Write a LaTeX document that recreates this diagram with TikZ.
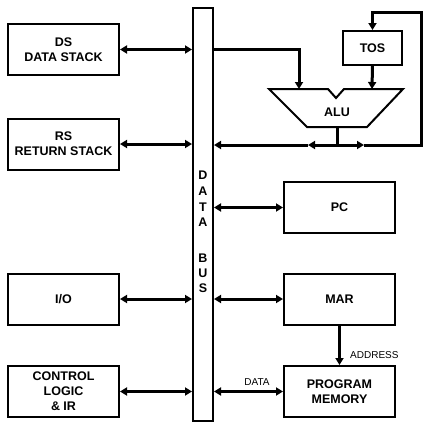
\documentclass[tikz,border=0pt]{standalone}
\usepackage{fontspec}
\setmainfont{Liberation Sans}
\usepackage{tikz}
\usetikzlibrary{arrows.meta, positioning, calc}

\tikzset{
  block/.style={draw, line width=2pt, minimum width=111pt, minimum height=51pt,
    inner sep=0pt, align=center, font=\fontsize{12.5}{15}\selectfont\bfseries},
  link/.style={line width=3pt, -{Triangle[length=7pt,width=8pt]}},
  duplex/.style={line width=3pt, {Triangle[length=7pt,width=8pt]}-{Triangle[length=7pt,width=8pt]}},
  wire/.style={line width=3pt},
  tag/.style={font=\fontsize{10}{12}\selectfont, inner sep=1pt}
}

\begin{document}
\begin{tikzpicture}[x=1pt, y=-1pt]
  \useasboundingbox (0,0) rectangle (431,440);

  % Left side blocks
  \node[block] (ds) at (63.5,49.5) {DS\\DATA STACK};
  \node[block] (rs) at (63.5,144) {RS\\RETURN STACK};
  \node[block] (io) at (63.5,299) {I/O};
  \node[block] (ctrl) at (63.5,391.5) {CONTROL\\LOGIC\\\& IR};

  % The data bus
  \node[draw, line width=2pt, minimum width=20pt, minimum height=413pt, inner sep=0pt] (bus) at (203,214.5) {};
  \foreach \ch/\y in {D/175, A/191, T/207, A/222, B/258, U/273, S/288}
    \node[font=\fontsize{12.5}{15}\selectfont\bfseries] at (203,\y) {\ch};

  % Right side blocks
  \node[block, minimum width=59pt, minimum height=34pt] (tos) at (372.5,48) {TOS};
  \node[block] (pc) at (339.5,207.5) {PC};
  \node[block] (mar) at (339.5,299) {MAR};
  \node[block] (pm) at (339.5,391.5) {PROGRAM\\MEMORY};

  % ALU outline
  \draw[line width=2pt, line join=miter]
    (269,89) -- (328,89) -- (336,98) -- (344,89) -- (403,89) -- (367,127) -- (307,127) -- cycle;
  \node[font=\fontsize{12.5}{15}\selectfont\bfseries] (alu) at (337,112) {ALU};
  \coordinate (alul) at (299,89);
  \coordinate (alur) at (372,89);
  \coordinate (aluout) at (337,127);
  \coordinate (j) at (337,145);
  \coordinate (jl) at (308,145);
  \coordinate (jr) at (364,145);
  \coordinate (loop) at (421,12);

  % Bus connections
  \draw[duplex] (ds.east) -- (ds.east -| bus.west);
  \draw[duplex] (rs.east) -- (rs.east -| bus.west);
  \draw[duplex] (io.east) -- (io.east -| bus.west);
  \draw[duplex] (ctrl.east) -- (ctrl.east -| bus.west);
  \draw[duplex] (bus.east |- pc) -- (pc.west);
  \draw[duplex] (bus.east |- mar) -- (mar.west);
  \draw[duplex] (bus.east |- pm) -- (pm.west);

  % ALU paths
  \draw[link] (bus.east |- ds) -| (alul);
  \draw[link] (tos.south) -- (alur);
  \draw[wire] (aluout) -- (j);
  \draw[link] (j) -- (jl);
  \draw[link] (jl) -- (bus.east |- j);
  \draw[link] (j) -- (jr);
  \draw[link] (jr) -| (loop) -| (tos.north);

  % Memory address
  \draw[link] (mar.south) -- (pm.north);
  \node[tag, anchor=west] at (349,355) {ADDRESS};
  \node[tag] at (257,382) {DATA};
\end{tikzpicture}
\end{document}
